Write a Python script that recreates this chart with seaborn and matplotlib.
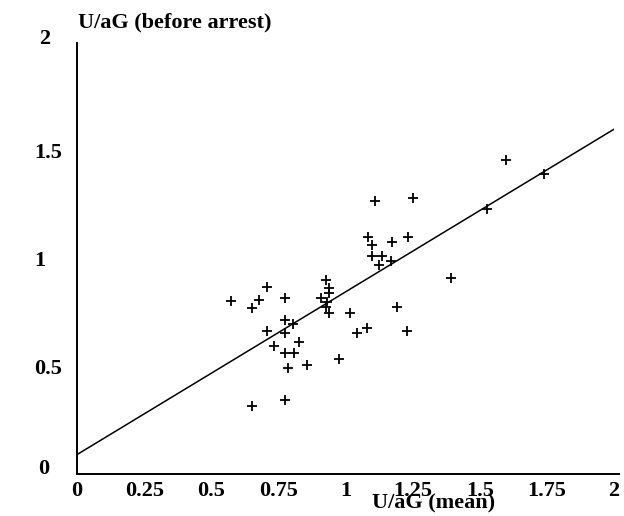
import matplotlib
matplotlib.use("Agg")
import matplotlib.pyplot as plt
import matplotlib.transforms as mtransforms
import seaborn as sns
import pandas as pd

# data
x_mean = [0.572, 0.653, 0.679, 0.707, 0.776, 0.776, 0.803, 0.707, 0.775, 0.826,
          0.734, 0.776, 0.808, 0.787, 0.855, 0.775, 0.650, 0.927, 0.940, 0.940,
          0.908, 0.930, 0.927, 0.940, 1.017, 0.977, 1.042, 1.081, 1.191, 1.230,
          1.098, 1.137, 1.123, 1.171, 1.083, 1.099, 1.172, 1.233, 1.110, 1.252,
          1.392, 1.526, 1.597, 1.740]
y_before = [0.805, 0.769, 0.808, 0.870, 0.817, 0.715, 0.695, 0.665, 0.653, 0.614,
            0.592, 0.563, 0.563, 0.493, 0.505, 0.344, 0.317, 0.900, 0.862, 0.838,
            0.818, 0.800, 0.773, 0.746, 0.748, 0.532, 0.654, 0.677, 0.776, 0.664,
            1.011, 1.011, 0.970, 0.988, 1.101, 1.063, 1.078, 1.099, 1.268, 1.279,
            0.908, 1.230, 1.457, 1.390]
line_x = [0.0, 2.0]
line_y = [0.09, 1.60]
x_ticks = [0, 0.25, 0.5, 0.75, 1, 1.25, 1.5, 1.75, 2]
x_tick_labels = ["0", "0.25", "0.5", "0.75", "1", "1.25", "1.5", "1.75", "2"]
y_ticks = [0, 0.5, 1, 1.5, 2]
y_tick_labels = ["0", "0.5", "1", "1.5", "2"]
x_title = "U/aG (mean)"
y_title = "U/aG (before arrest)"

sns.set_style("white")
plt.rcParams["font.family"] = ["Liberation Serif", "DejaVu Serif"]
plt.rcParams["font.weight"] = "bold"
plt.rcParams["text.color"] = "black"
plt.rcParams["xtick.color"] = "black"
plt.rcParams["ytick.color"] = "black"

W, H = 624, 516
FS = 16
fig = plt.figure(figsize=(W / 100, H / 100), dpi=100)
ax = fig.add_axes([77 / W, 1 - 474 / H, (614 - 77) / W, (474 - 43) / H])

df = pd.DataFrame({"x": x_mean, "y": y_before})
sns.scatterplot(data=df, x="x", y="y", marker="+", color="black", s=60,
                linewidth=1.3, ax=ax, zorder=3)
sns.lineplot(x=line_x, y=line_y, color="black", linewidth=1.1, ax=ax,
             estimator=None, sort=False)

ax.set_xlim(0, 2)
ax.set_ylim(0, 2)
for s in ["top", "right"]:
    ax.spines[s].set_visible(False)
for s in ["left", "bottom"]:
    ax.spines[s].set_color("black")
    ax.spines[s].set_linewidth(1.4)
ax.spines["bottom"].set_bounds(0, 2.02)

ax.set_xticks(x_ticks)
ax.set_xticklabels(x_tick_labels, fontsize=FS, fontweight="bold", color="black")
ax.set_yticks(y_ticks)
ax.set_yticklabels(y_tick_labels, fontsize=FS, fontweight="bold", ha="left",
                   color="black")
ax.tick_params(axis="x", direction="out", length=3, width=1, pad=2, colors="black")
ax.tick_params(axis="y", direction="out", length=4, width=1, pad=27, colors="black")

# small offsets of the end labels as in the scan
ylabs = ax.get_yticklabels()
ylabs[0].set_transform(ylabs[0].get_transform() +
                       mtransforms.ScaledTranslation(0.04, 0.07, fig.dpi_scale_trans))
ylabs[-1].set_transform(ylabs[-1].get_transform() +
                        mtransforms.ScaledTranslation(0.05, 0.06, fig.dpi_scale_trans))

ax.set_xlabel("")
ax.set_ylabel("")
fig.text(78 / W, 1 - 22 / H, y_title, ha="left", va="center",
         fontsize=FS, fontweight="bold", color="black")
fig.text(434 / W, 1 - 503 / H, x_title, ha="center", va="center",
         fontsize=FS, fontweight="bold", color="black")

fig.savefig("out.png", dpi=100)
